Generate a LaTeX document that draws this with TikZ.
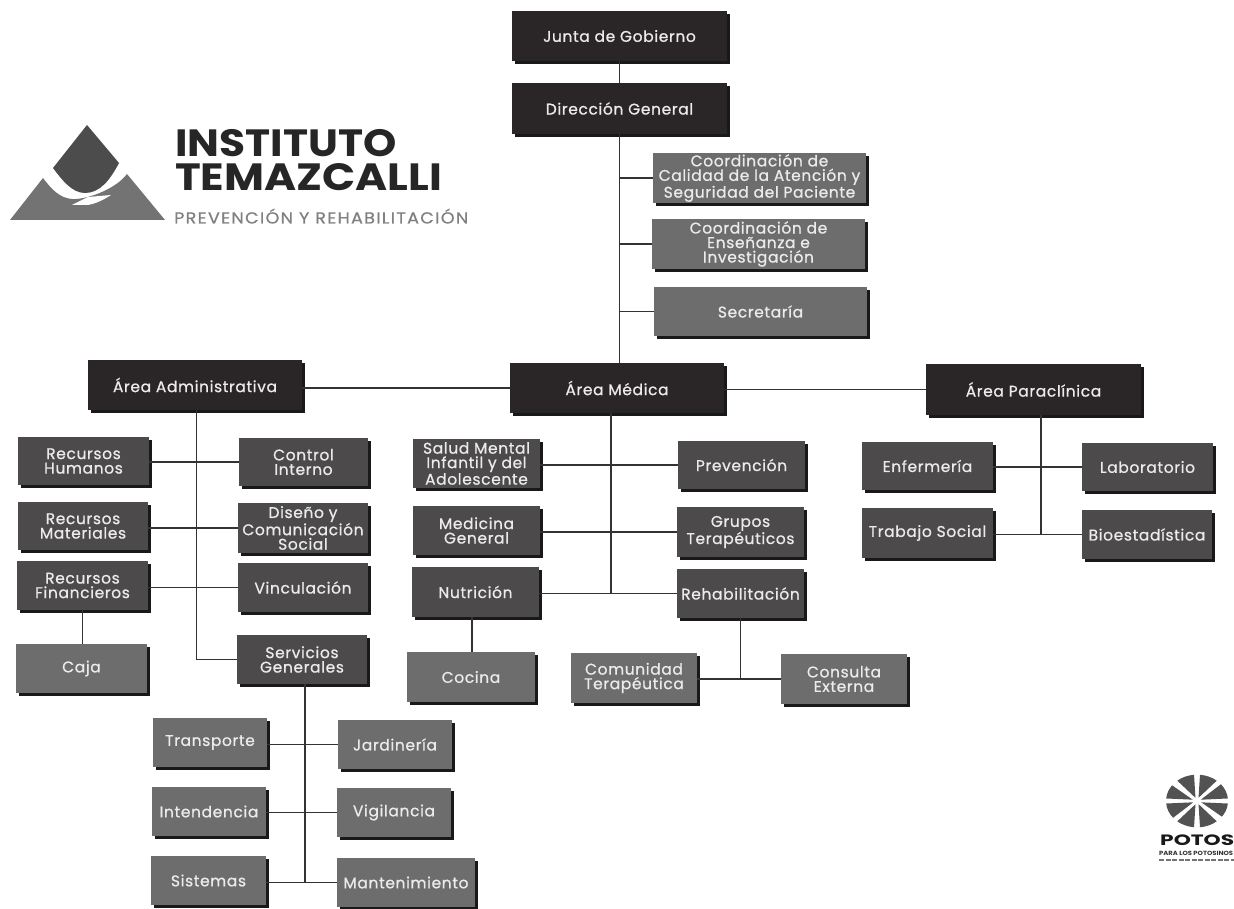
\documentclass[tikz,border=0pt]{standalone}
\usepackage{fontspec}
\setmainfont{Poppins}
\newfontfamily\boxfont[FakeBold=0.8,LetterSpace=4]{Poppins}
\newfontfamily\logoa[FakeStretch=1.115]{Poppins}
\newfontfamily\logob[FakeStretch=1.147]{Poppins}
\newfontfamily\logoc[FakeStretch=1.1,LetterSpace=8,FakeBold=0.6]{Poppins}
\newfontfamily\potfont[FakeStretch=1.45]{Poppins}
\newfontfamily\potsmall[FakeStretch=1.13]{Poppins}
\usetikzlibrary{shadows}
\definecolor{cdark}{HTML}{2A2627}
\definecolor{cmid}{HTML}{4C4A4A}
\definecolor{cgrey}{HTML}{6E6D6D}
\definecolor{cline}{HTML}{333333}
\tikzset{
  bx/.style={draw=none,inner sep=0pt,align=center,text=white!92!black,font=\boxfont\fontsize{15.5}{14.5}\selectfont,
     drop shadow={shadow xshift=3pt,shadow yshift=-3pt,fill=black!90,opacity=1}},
  bdark/.style={bx,fill=cdark},
  bmid/.style={bx,fill=cmid},
  bgrey/.style={bx,fill=cgrey},
  conn/.style={draw=cline,line width=1.3pt},
  logotext/.style={anchor=west,inner sep=0pt,text depth=0pt}
}
% \bxat{style}{name}{x0}{y0}{x1}{y1}{text}
\newcommand{\bxat}[7]{%
  \pgfmathsetmacro{\bxw}{#5-#3}\pgfmathsetmacro{\bxh}{#6-#4}%
  \pgfmathsetmacro{\bxcx}{(#3+#5)/2}\pgfmathsetmacro{\bxcy}{(#4+#6)/2}%
  \node[#1,minimum width=\bxw pt,minimum height=\bxh pt] (#2) at (\bxcx,\bxcy) {#7};}
\begin{document}
\begin{tikzpicture}[x=1pt,y=-1pt]
\useasboundingbox (0,0) rectangle (1234,909);
\fill[white] (0,0) rectangle (1234,909);
\bxat{bdark}{jg}{512}{11}{727}{61}{Junta de Gobierno}
\bxat{bdark}{dg}{512}{83}{727}{134}{Dirección General}
\bxat{bgrey}{cc}{653}{153}{866}{203}{Coordinación de\\Calidad de la Atención y\\Seguridad del Paciente}
\bxat{bgrey}{ce}{652}{219}{865}{269}{Coordinación de\\Enseñanza e\\Investigación}
\bxat{bgrey}{se}{654}{287}{867}{336}{Secretaría}
\bxat{bdark}{am}{510}{363}{724}{413}{Área Médica}
\bxat{bdark}{aa}{88}{360}{302}{410}{Área Administrativa}
\bxat{bdark}{ap}{926}{364}{1141}{415}{Área Paraclínica}
\bxat{bmid}{rh}{18}{437}{149}{485}{Recursos\\Humanos}
\bxat{bmid}{ci}{239}{438}{368}{486}{Control\\Interno}
\bxat{bmid}{rm}{18}{502}{148}{550}{Recursos\\Materiales}
\bxat{bmid}{dc}{238}{503}{368}{553}{Diseño y\\Comunicación\\Social}
\bxat{bmid}{rf}{17}{561}{148}{610}{Recursos\\Financieros}
\bxat{bmid}{vi}{238}{563}{368}{612}{Vinculación}
\bxat{bgrey}{ca}{16}{644}{147}{693}{Caja}
\bxat{bmid}{sg}{237}{635}{367}{684}{Servicios\\Generales}
\bxat{bmid}{sm}{413}{439}{540}{488}{Salud Mental\\Infantil y del\\Adolescente}
\bxat{bmid}{pr}{678}{441}{805}{489}{Prevención}
\bxat{bmid}{mg}{413}{506}{540}{555}{Medicina\\General}
\bxat{bmid}{gt}{677}{507}{804}{557}{Grupos\\Terapéuticos}
\bxat{bmid}{nu}{412}{567}{539}{617}{Nutrición}
\bxat{bmid}{re}{677}{569}{804}{618}{Rehabilitación}
\bxat{bgrey}{co}{407}{652}{535}{702}{Cocina}
\bxat{bgrey}{ct}{571}{653}{697}{703}{Comunidad\\Terapéutica}
\bxat{bgrey}{ex}{781}{654}{907}{704}{Consulta\\Externa}
\bxat{bmid}{en}{862}{442}{993}{490}{Enfermería}
\bxat{bmid}{la}{1082}{443}{1213}{491}{Laboratorio}
\bxat{bmid}{ts}{862}{508}{993}{558}{Trabajo Social}
\bxat{bmid}{bi}{1082}{510}{1212}{559}{Bioestadística}
\bxat{bgrey}{tr}{153}{718}{267}{767}{Transporte}
\bxat{bgrey}{ja}{338}{720}{452}{769}{Jardinería}
\bxat{bgrey}{in}{152}{787}{266}{836}{Intendencia}
\bxat{bgrey}{vg}{337}{788}{451}{837}{Vigilancia}
\bxat{bgrey}{si}{151}{856}{266}{905}{Sistemas}
\bxat{bgrey}{ma}{337}{858}{475}{907}{Mantenimiento}
% trunk heads
\coordinate (amt) at ([xshift=-6pt]am.south);
\coordinate (aat) at ([xshift=1.5pt]aa.south);
\coordinate (apt) at ([xshift=7.5pt]ap.south);
\coordinate (sgt) at ([xshift=3pt]sg.south);
\coordinate (nut) at ([xshift=-3.5pt]nu.south);
\draw[conn] (jg) -- (dg);
\draw[conn] (dg.south) -- (dg.south |- am.north);
\draw[conn] (dg.south |- cc.west) -- (cc.west);
\draw[conn] (dg.south |- ce.west) -- (ce.west);
\draw[conn] (dg.south |- se.west) -- (se.west);
\draw[conn] (aa.east |- am.west) -- (am.west);
\draw[conn] (am.east |- ap.west) -- (ap.west);
\draw[conn] (aat) |- (sg.west);
\draw[conn] (rh.east |- ci.west) -- (ci.west);
\draw[conn] (rm.east |- dc.west) -- (dc.west);
\draw[conn] (rf.east |- vi.west) -- (vi.west);
\draw[conn] (rf.south) -- (rf.south |- ca.north);
\draw[conn] (amt) -- (amt |- re.west);
\draw[conn] (sm.east |- pr.west) -- (pr.west);
\draw[conn] (mg.east |- gt.west) -- (gt.west);
\draw[conn] (nu.east |- re.west) -- (re.west);
\draw[conn] (nut) -- (nut |- co.north);
\draw[conn] (re.south) -- (re.south |- ex.west);
\draw[conn] (ct.east |- ex.west) -- (ex.west);
\draw[conn] (apt) -- (apt |- bi.west);
\draw[conn] (en.east |- la.west) -- (la.west);
\draw[conn] (ts.east |- bi.west) -- (bi.west);
\draw[conn] (sgt) -- (sgt |- ma.west);
\draw[conn] (tr.east |- ja.west) -- (ja.west);
\draw[conn] (in.east |- vg.west) -- (vg.west);
\draw[conn] (si.east |- ma.west) -- (ma.west);
% logo
\fill[black!55] (10,220) -- (43,178) .. controls (52,190) and (60,198) .. (72,199)
   .. controls (85,200) and (115,190) .. (127,174) -- (165,220) -- cycle;
\fill[white] (72,205) .. controls (82,200) and (84,199) .. (88,197) -- (111,195)
   .. controls (102,201) and (94,204) .. (88,205) -- cycle;
\fill[black!70] (87,125) -- (119,163) .. controls (110,180) and (100,193) .. (85,193)
   .. controls (72,193) and (62,180) .. (53,168) -- cycle;
\node[logotext,text height=27pt,text=black!85] (tinst) at (175,143.5) {\logoa\fontsize{38}{38}\selectfont\bfseries INSTITUTO};
\node[logotext,text height=27pt,text=black!85] (ttem) at (175,177.5) {\logob\fontsize{38}{38}\selectfont\bfseries TEMAZCALLI};
\node[logotext,text height=11pt,text=black!50] (tprev) at (174,218) {\logoc\fontsize{16}{16}\selectfont PREVENCIÓN Y REHABILITACIÓN};
% Potosi mark
\begin{scope}[shift={(1197,801)},yscale=0.85]
\foreach \a in {22.5,67.5,112.5,157.5,202.5,247.5,292.5,337.5}{
  \fill[black!68,rotate=\a] (0:4) -- (-17:31) arc (-17:17:31) -- cycle;
}
\draw[white,line width=2.4pt] (-33,-27) -- (33,27);
\draw[white,line width=2.4pt] (-27,27) -- (27,-27);
\end{scope}
\node[logotext,text height=10pt,text=black!90] (tpot) at (1160,840) {\potfont\fontsize{15}{15}\selectfont\bfseries POTOS};
\node[logotext,text height=4pt,text=black!80] (tpara) at (1159,853) {\potsmall\fontsize{6}{6}\selectfont\bfseries PARA LOS POTOSINOS};
\draw[black!55,line width=1.2pt,dash pattern=on 5pt off 1.5pt] (1159,860) -- (1234,860);
\end{tikzpicture}
\end{document}
